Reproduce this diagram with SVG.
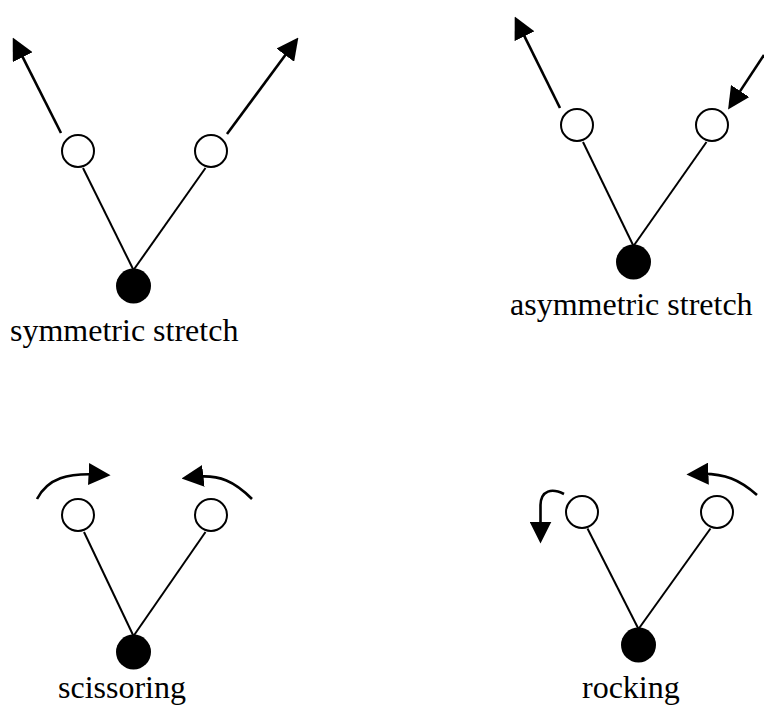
<svg xmlns="http://www.w3.org/2000/svg" width="764" height="712" viewBox="0 0 764 712">
  <style>
    .bond { stroke: #000; stroke-width: 2; fill: none; }
    .arrow { stroke: #000; stroke-width: 2.6; fill: none; marker-end: url(#head); }
    .atom { fill: #fff; stroke: #000; stroke-width: 2; }
    .center { fill: #000; }
    .label { font-family: "Liberation Serif", "Times New Roman", serif; font-size: 32px; fill: #000; }
  </style>
  <defs>
    <marker id="head" markerUnits="userSpaceOnUse" markerWidth="22" markerHeight="22" viewBox="0 0 21 21" refX="9" refY="10.5" orient="auto">
      <path d="M0,0 L21,10.5 L0,21 Z" fill="#000"/>
    </marker>
  </defs>
  <rect width="764" height="712" fill="#fff"/>

  <!-- bonds and displacement arrows -->
  <g id="connectors">
    <!-- symmetric stretch -->
    <line class="bond" x1="83" y1="168" x2="133.5" y2="270"/>
    <line class="bond" x1="205.5" y1="168" x2="133.5" y2="270"/>
    <line class="arrow" x1="61" y1="133" x2="18.4" y2="48.7"/>
    <line class="arrow" x1="227" y1="134" x2="290.9" y2="47.6"/>
    <!-- asymmetric stretch -->
    <line class="bond" x1="583" y1="142" x2="633.5" y2="246"/>
    <line class="bond" x1="706.5" y1="142" x2="633.5" y2="246"/>
    <line class="arrow" x1="560" y1="108" x2="520.3" y2="27.8"/>
    <line class="arrow" x1="764" y1="55" x2="735" y2="98.9"/>
    <!-- scissoring -->
    <line class="bond" x1="84" y1="532" x2="133.5" y2="636"/>
    <line class="bond" x1="205.5" y1="532" x2="133.5" y2="636"/>
    <path class="arrow" d="M37,499 C48,478 68,473 98,474.5"/>
    <path class="arrow" d="M252,499 C235,482 220,474 194,477"/>
    <!-- rocking -->
    <line class="bond" x1="587.5" y1="528.5" x2="638.5" y2="629"/>
    <line class="bond" x1="710.5" y1="528.5" x2="638.5" y2="629"/>
    <path class="arrow" d="M564,494 C552,488 541,490 540.5,505 L540.5,531"/>
    <path class="arrow" d="M757,495 C740,480 725,473 699,474"/>
  </g>

  <!-- symmetric stretch -->
  <g id="sym-stretch">
    <circle class="atom" cx="78" cy="151" r="16"/>
    <circle class="atom" cx="211" cy="151" r="16"/>
    <circle class="center" cx="133.5" cy="286" r="17.5"/>
    <text class="label" x="10" y="341">symmetric stretch</text>
  </g>

  <!-- asymmetric stretch -->
  <g id="asym-stretch">
    <circle class="atom" cx="577" cy="125" r="16"/>
    <circle class="atom" cx="712" cy="125" r="16"/>
    <circle class="center" cx="633.5" cy="262" r="17.5"/>
    <text class="label" x="510" y="315">asymmetric stretch</text>
  </g>

  <!-- scissoring -->
  <g id="scissoring">
    <circle class="atom" cx="78" cy="515" r="16"/>
    <circle class="atom" cx="211" cy="515" r="16"/>
    <circle class="center" cx="133.5" cy="652" r="17.5"/>
    <text class="label" x="58" y="698">scissoring</text>
  </g>

  <!-- rocking -->
  <g id="rocking">
    <circle class="atom" cx="582" cy="512" r="16"/>
    <circle class="atom" cx="717" cy="512" r="16"/>
    <circle class="center" cx="638.5" cy="645" r="17.5"/>
    <text class="label" x="582" y="698">rocking</text>
  </g>
</svg>
